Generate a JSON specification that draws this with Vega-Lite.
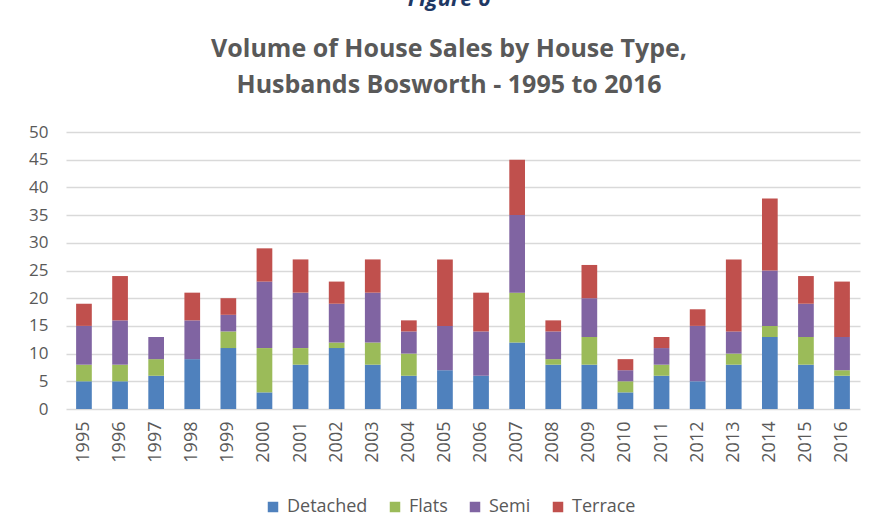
{
  "$schema": "https://vega.github.io/schema/vega-lite/v6.json",
  "width": 794,
  "height": 277,
  "autosize": {"type": "none"},
  "padding": {"left": 66, "top": 132, "right": 15, "bottom": 122},
  "background": "white",
  "title": {
    "text": "Figure 6",
    "subtitle": ["Volume of House Sales by House Type,", "Husbands Bosworth - 1995 to 2016"],
    "anchor": "middle",
    "dx": -14,
    "offset": 24,
    "font": "Open Sans",
    "fontSize": 22,
    "fontStyle": "italic",
    "fontWeight": "bold",
    "color": "#1F3864",
    "subtitleFont": "Open Sans",
    "subtitleFontSize": 25,
    "subtitleFontWeight": "bold",
    "subtitleColor": "#595959",
    "subtitleLineHeight": 36,
    "subtitlePadding": 26
  },
  "data": {
    "values": [
      {"year": "1995", "type": "Detached", "count": 5}, {"year": "1995", "type": "Flats", "count": 3}, {"year": "1995", "type": "Semi", "count": 7}, {"year": "1995", "type": "Terrace", "count": 4},
      {"year": "1996", "type": "Detached", "count": 5}, {"year": "1996", "type": "Flats", "count": 3}, {"year": "1996", "type": "Semi", "count": 8}, {"year": "1996", "type": "Terrace", "count": 8},
      {"year": "1997", "type": "Detached", "count": 6}, {"year": "1997", "type": "Flats", "count": 3}, {"year": "1997", "type": "Semi", "count": 4}, {"year": "1997", "type": "Terrace", "count": 0},
      {"year": "1998", "type": "Detached", "count": 9}, {"year": "1998", "type": "Flats", "count": 0}, {"year": "1998", "type": "Semi", "count": 7}, {"year": "1998", "type": "Terrace", "count": 5},
      {"year": "1999", "type": "Detached", "count": 11}, {"year": "1999", "type": "Flats", "count": 3}, {"year": "1999", "type": "Semi", "count": 3}, {"year": "1999", "type": "Terrace", "count": 3},
      {"year": "2000", "type": "Detached", "count": 3}, {"year": "2000", "type": "Flats", "count": 8}, {"year": "2000", "type": "Semi", "count": 12}, {"year": "2000", "type": "Terrace", "count": 6},
      {"year": "2001", "type": "Detached", "count": 8}, {"year": "2001", "type": "Flats", "count": 3}, {"year": "2001", "type": "Semi", "count": 10}, {"year": "2001", "type": "Terrace", "count": 6},
      {"year": "2002", "type": "Detached", "count": 11}, {"year": "2002", "type": "Flats", "count": 1}, {"year": "2002", "type": "Semi", "count": 7}, {"year": "2002", "type": "Terrace", "count": 4},
      {"year": "2003", "type": "Detached", "count": 8}, {"year": "2003", "type": "Flats", "count": 4}, {"year": "2003", "type": "Semi", "count": 9}, {"year": "2003", "type": "Terrace", "count": 6},
      {"year": "2004", "type": "Detached", "count": 6}, {"year": "2004", "type": "Flats", "count": 4}, {"year": "2004", "type": "Semi", "count": 4}, {"year": "2004", "type": "Terrace", "count": 2},
      {"year": "2005", "type": "Detached", "count": 7}, {"year": "2005", "type": "Flats", "count": 0}, {"year": "2005", "type": "Semi", "count": 8}, {"year": "2005", "type": "Terrace", "count": 12},
      {"year": "2006", "type": "Detached", "count": 6}, {"year": "2006", "type": "Flats", "count": 0}, {"year": "2006", "type": "Semi", "count": 8}, {"year": "2006", "type": "Terrace", "count": 7},
      {"year": "2007", "type": "Detached", "count": 12}, {"year": "2007", "type": "Flats", "count": 9}, {"year": "2007", "type": "Semi", "count": 14}, {"year": "2007", "type": "Terrace", "count": 10},
      {"year": "2008", "type": "Detached", "count": 8}, {"year": "2008", "type": "Flats", "count": 1}, {"year": "2008", "type": "Semi", "count": 5}, {"year": "2008", "type": "Terrace", "count": 2},
      {"year": "2009", "type": "Detached", "count": 8}, {"year": "2009", "type": "Flats", "count": 5}, {"year": "2009", "type": "Semi", "count": 7}, {"year": "2009", "type": "Terrace", "count": 6},
      {"year": "2010", "type": "Detached", "count": 3}, {"year": "2010", "type": "Flats", "count": 2}, {"year": "2010", "type": "Semi", "count": 2}, {"year": "2010", "type": "Terrace", "count": 2},
      {"year": "2011", "type": "Detached", "count": 6}, {"year": "2011", "type": "Flats", "count": 2}, {"year": "2011", "type": "Semi", "count": 3}, {"year": "2011", "type": "Terrace", "count": 2},
      {"year": "2012", "type": "Detached", "count": 5}, {"year": "2012", "type": "Flats", "count": 0}, {"year": "2012", "type": "Semi", "count": 10}, {"year": "2012", "type": "Terrace", "count": 3},
      {"year": "2013", "type": "Detached", "count": 8}, {"year": "2013", "type": "Flats", "count": 2}, {"year": "2013", "type": "Semi", "count": 4}, {"year": "2013", "type": "Terrace", "count": 13},
      {"year": "2014", "type": "Detached", "count": 13}, {"year": "2014", "type": "Flats", "count": 2}, {"year": "2014", "type": "Semi", "count": 10}, {"year": "2014", "type": "Terrace", "count": 13},
      {"year": "2015", "type": "Detached", "count": 8}, {"year": "2015", "type": "Flats", "count": 5}, {"year": "2015", "type": "Semi", "count": 6}, {"year": "2015", "type": "Terrace", "count": 5},
      {"year": "2016", "type": "Detached", "count": 6}, {"year": "2016", "type": "Flats", "count": 1}, {"year": "2016", "type": "Semi", "count": 6}, {"year": "2016", "type": "Terrace", "count": 10}
    ]
  },
  "mark": {"type": "bar"},
  "encoding": {
    "x": {
      "field": "year",
      "type": "ordinal",
      "scale": {"paddingInner": 0.565, "paddingOuter": 0.28},
      "axis": {
        "title": null,
        "labelAngle": -90,
        "labelFont": "Open Sans",
        "labelFontSize": 18,
        "labelColor": "#595959",
        "labelPadding": 12,
        "ticks": false,
        "domain": false
      }
    },
    "y": {
      "field": "count",
      "type": "quantitative",
      "stack": "zero",
      "scale": {"domain": [0, 50], "nice": false},
      "axis": {
        "title": null,
        "values": [0, 5, 10, 15, 20, 25, 30, 35, 40, 45, 50],
        "labelFont": "Open Sans",
        "labelFontSize": 17,
        "labelColor": "#595959",
        "labelPadding": 18,
        "ticks": false,
        "domain": false,
        "gridColor": "#d9d9d9",
        "gridWidth": 1.5
      }
    },
    "order": {"field": "type", "sort": "ascending"},
    "color": {
      "field": "type",
      "type": "nominal",
      "scale": {
        "domain": ["Detached", "Flats", "Semi", "Terrace"],
        "range": ["#4F81BD", "#9BBB59", "#8064A2", "#C0504D"]
      },
      "legend": {
        "title": null,
        "orient": "none",
        "legendX": 198,
        "legendY": 366,
        "direction": "horizontal",
        "symbolType": "square",
        "symbolSize": 110,
        "symbolStrokeWidth": 0,
        "labelFont": "Open Sans",
        "labelFontSize": 18,
        "labelColor": "#595959",
        "labelOffset": 5,
        "columnPadding": 18
      }
    }
  },
  "config": {"view": {"stroke": null}}
}
